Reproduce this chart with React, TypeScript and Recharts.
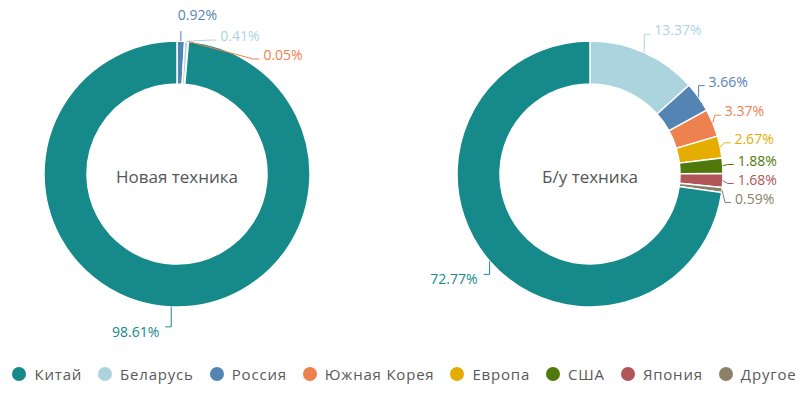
import React from 'react';
import { PieChart, Pie, Cell, Legend } from 'recharts';

const categories = ['Китай', 'Беларусь', 'Россия', 'Южная Корея', 'Европа', 'США', 'Япония', 'Другое'];
const categoryColors = ['#168a8a', '#acd4df', '#5484b4', '#ee8150', '#e5ad00', '#4f790b', '#b05658', '#8d8069'];

const newTitle = 'Новая техника';
const newNames = ['Россия', 'Беларусь', 'Южная Корея', 'Китай'];
const newValues = [0.92, 0.41, 0.05, 98.61];

const usedTitle = 'Б/у техника';
const usedNames = ['Беларусь', 'Россия', 'Южная Корея', 'Европа', 'США', 'Япония', 'Другое', 'Китай'];
const usedValues = [13.37, 3.66, 3.37, 2.67, 1.88, 1.68, 0.59, 72.77];

const FONT = '"Open Sans", sans-serif';
const RAD = Math.PI / 180;

const colorOf = (name: string) => categoryColors[categories.indexOf(name)];

function layoutLabels(values: number[], cx: number, cy: number, r: number) {
  const total = values.reduce((a, b) => a + b, 0);
  let acc = 0;
  const pts = values.map((v, i) => {
    const mid = 90 - ((acc + v / 2) / total) * 360;
    acc += v;
    const c = Math.cos(mid * RAD);
    const s = Math.sin(mid * RAD);
    return { i, mid, right: c >= 0, y: cy - r * s };
  });
  const gap = 19;
  [true, false].forEach((side) => {
    const group = pts.filter((p) => p.right === side).sort((a, b) => a.y - b.y);
    for (let k = 1; k < group.length; k++) {
      if (group[k].y < group[k - 1].y + gap) group[k].y = group[k - 1].y + gap;
    }
  });
  return pts;
}

function makeLabel(values: number[], title: string) {
  return (props: any) => {
    const { cx, cy, outerRadius, index, fill } = props;
    const pts = layoutLabels(values, cx, cy, outerRadius + 20);
    const p = pts[index];
    const sx = cx + outerRadius * Math.cos(p.mid * RAD);
    const sy = cy - outerRadius * Math.sin(p.mid * RAD);
    const rr = outerRadius + 5;
    const dy = p.y - cy;
    const dx = Math.abs(dy) < rr ? Math.sqrt(rr * rr - dy * dy) : 0;
    const bx = p.right ? Math.max(sx, cx + dx) : Math.min(sx, cx - dx);
    const topVertical = p.right && bx === sx && p.mid > 80;
    const label = `${values[index].toFixed(2)}%`;
    const centerText =
      index === 0 ? (
        <text x={cx} y={cy + 9} fill="#555" fontSize={17} fontFamily={FONT} textAnchor="middle">
          {title}
        </text>
      ) : null;
    if (topVertical) {
      return (
        <g key={`lbl-${index}`}>
          {centerText}
          <polyline points={`${sx},${sy} ${bx},${p.y + 10}`} fill="none" stroke={fill} strokeWidth={1} />
          <text x={bx - 3} y={p.y - 1} fill={fill} fontSize={14} fontFamily={FONT} textAnchor="start">
            {label}
          </text>
        </g>
      );
    }
    const ex = p.right ? bx + 6 : bx - 6;
    const tx = p.right ? ex + 4 : ex - 6;
    const ty = p.right ? p.y + 1 : p.y + 10;
    return (
      <g key={`lbl-${index}`}>
        {centerText}
        <polyline
          points={`${sx},${sy} ${bx},${p.y} ${ex},${p.y}`}
          fill="none"
          stroke={fill}
          strokeWidth={1}
        />
        <text
          x={tx}
          y={ty}
          fill={fill}
          fontSize={14}
          fontFamily={FONT}
          textAnchor={p.right ? 'start' : 'end'}
        >
          {label}
        </text>
      </g>
    );
  };
}

const newData = newNames.map((name, i) => ({ name, value: newValues[i] }));
const usedData = usedNames.map((name, i) => ({ name, value: usedValues[i] }));

const renderLegend = () => (
  <div
    style={{
      display: 'flex',
      justifyContent: 'center',
      alignItems: 'center',
      fontFamily: FONT,
      fontSize: 15,
      letterSpacing: 0.8,
      color: '#595959',
    }}
  >
    {categories.map((c, i) => (
      <div key={c} style={{ display: 'flex', alignItems: 'center', marginRight: i < categories.length - 1 ? 16 : 0 }}>
        <svg width={14} height={14} style={{ marginRight: 8 }}>
          <circle cx={7} cy={7} r={7} fill={categoryColors[i]} />
        </svg>
        <span>{c}</span>
      </div>
    ))}
  </div>
);

export default function App() {
  return (
    <div style={{ position: 'absolute', left: 0, top: 0, width: 809, height: 393, background: '#fff' }}>
      <PieChart width={809} height={393} margin={{ top: 0, right: 0, bottom: 0, left: 0 }}>
        <Pie
          data={newData}
          dataKey="value"
          nameKey="name"
          cx={177}
          cy={174}
          innerRadius={90}
          outerRadius={133}
          startAngle={90}
          endAngle={-270}
          stroke="#fff"
          strokeWidth={1.5}
          label={makeLabel(newValues, newTitle)}
          labelLine={false}
          isAnimationActive={false}
        >
          {newData.map((d) => (
            <Cell key={d.name} fill={colorOf(d.name)} />
          ))}
        </Pie>
        <Pie
          data={usedData}
          dataKey="value"
          nameKey="name"
          cx={590}
          cy={174}
          innerRadius={90}
          outerRadius={133}
          startAngle={90}
          endAngle={-270}
          stroke="#fff"
          strokeWidth={1.5}
          label={makeLabel(usedValues, usedTitle)}
          labelLine={false}
          isAnimationActive={false}
        >
          {usedData.map((d) => (
            <Cell key={d.name} fill={colorOf(d.name)} />
          ))}
        </Pie>
        <Legend
          content={renderLegend}
          wrapperStyle={{ position: 'absolute', left: 0, top: 364, width: 809, height: 22 }}
        />
      </PieChart>
    </div>
  );
}
